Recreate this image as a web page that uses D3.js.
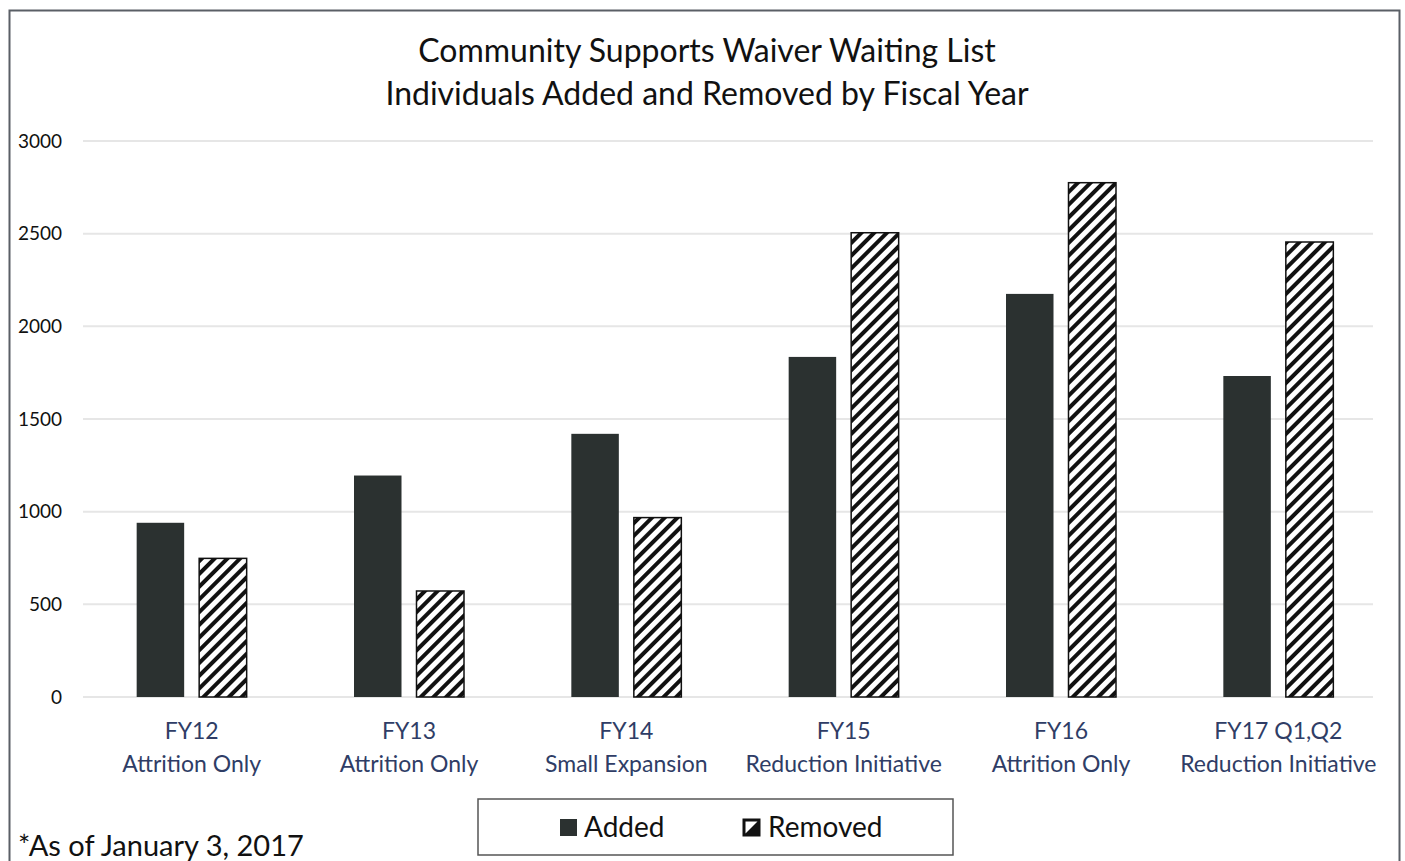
<!DOCTYPE html>
<html>
<head>
<meta charset="utf-8">
<script src="https://cdn.jsdelivr.net/npm/d3@7"></script>
<style>
  body { margin: 0; background: #fff; }
  text { font-family: Lato, "Open Sans", sans-serif; }
</style>
</head>
<body>
<div id="chart"></div>
<script>
// data
let years = ['FY12', 'FY13', 'FY14', 'FY15', 'FY16', 'FY17 Q1,Q2']
let phases = ['Attrition Only', 'Attrition Only', 'Small Expansion', 'Reduction Initiative', 'Attrition Only', 'Reduction Initiative']
let added = [940, 1195, 1420, 1835, 2175, 1732]
let removed = [748, 572, 968, 2505, 2775, 2455]
let series = ['Added', 'Removed']
let yTicks = [0, 500, 1000, 1500, 2000, 2500, 3000]

let width = 1405
let height = 861
let margin = { top: 141, left: 83, right: 18, bottom: 164 }

let svg = d3
  .select('#chart')
  .append('svg')
  .attr('width', width)
  .attr('height', height)

// hatch pattern for Removed
let defs = svg.append('defs')
defs
  .append('pattern')
  .attr('id', 'hatch')
  .attr('patternUnits', 'userSpaceOnUse')
  .attr('width', 9)
  .attr('height', 9)
  .attr('patternTransform', 'rotate(45)')
  .call(p => {
    p.append('rect').attr('width', 9).attr('height', 9).attr('fill', '#fff')
    p.append('rect').attr('width', 4).attr('height', 9).attr('fill', '#111')
  })

// outer frame
svg
  .append('rect')
  .attr('x', 9.5)
  .attr('y', 10.5)
  .attr('width', 1390)
  .attr('height', 880)
  .attr('fill', 'none')
  .attr('stroke', '#5a5f66')
  .attr('stroke-width', 2)

// title
svg
  .append('text')
  .attr('x', 707)
  .attr('y', 62)
  .attr('text-anchor', 'middle')
  .attr('font-size', 32)
  .attr('fill', '#111')
  .text('Community Supports Waiver Waiting List')
svg
  .append('text')
  .attr('x', 707)
  .attr('y', 105)
  .attr('text-anchor', 'middle')
  .attr('font-size', 32)
  .attr('fill', '#111')
  .text('Individuals Added and Removed by Fiscal Year')

let x = d3
  .scaleBand()
  .domain(years)
  .range([margin.left, width - margin.right])

let xInner = d3
  .scaleBand()
  .domain(series)
  .range([x.bandwidth() / 2 - 55, x.bandwidth() / 2 + 55])
  .paddingInner(0.24)

let y = d3
  .scaleLinear()
  .domain([0, 3000])
  .range([height - margin.bottom, margin.top])

// gridlines
svg
  .append('g')
  .selectAll('line')
  .data(yTicks)
  .enter()
  .append('line')
  .attr('x1', margin.left)
  .attr('x2', width - margin.right - 14)
  .attr('y1', d => y(d))
  .attr('y2', d => y(d))
  .attr('stroke', '#e6e6e6')
  .attr('stroke-width', 2)

// y axis labels
let yAxis = svg
  .append('g')
  .attr('transform', 'translate(' + margin.left + ',0)')
  .call(d3.axisLeft(y).tickValues(yTicks).tickFormat(d3.format('d')).tickSize(0).tickPadding(21))
yAxis.select('.domain').remove()
yAxis
  .selectAll('text')
  .attr('font-size', 19)
  .attr('fill', '#111')
  .style('font-family', 'Lato, sans-serif')

// bars
let rows = years.map((d, i) => ({ year: d, Added: added[i], Removed: removed[i] }))

let groups = svg
  .selectAll('.group')
  .data(rows)
  .enter()
  .append('g')
  .attr('class', 'group')
  .attr('transform', d => 'translate(' + x(d.year) + ',0)')

groups
  .selectAll('rect')
  .data(d => series.map(s => ({ key: s, value: d[s] })))
  .enter()
  .append('rect')
  .attr('x', d => xInner(d.key))
  .attr('width', xInner.bandwidth())
  .attr('y', d => y(d.value))
  .attr('height', d => y(0) - y(d.value))
  .attr('fill', d => (d.key === 'Added' ? '#2b3130' : 'url(#hatch)'))
  .attr('stroke', d => (d.key === 'Added' ? 'none' : '#111'))
  .attr('stroke-width', 1.5)

// category labels (two lines)
let labels = svg
  .selectAll('.xlabel')
  .data(years)
  .enter()
  .append('text')
  .attr('class', 'xlabel')
  .attr('text-anchor', 'middle')
  .attr('font-size', 23)
  .attr('fill', '#2f3d66')
  .attr('transform', d => 'translate(' + (x(d) + x.bandwidth() / 2) + ',' + 739 + ')')
labels
  .append('tspan')
  .attr('x', 0)
  .attr('y', 0)
  .text(d => d)
labels
  .append('tspan')
  .attr('x', 0)
  .attr('y', 33)
  .text((d, i) => phases[i])

// legend
let legend = svg.append('g').attr('transform', 'translate(478,799)')
legend
  .append('rect')
  .attr('width', 475)
  .attr('height', 56)
  .attr('fill', '#fff')
  .attr('stroke', '#555')
  .attr('stroke-width', 1.5)

legend
  .append('rect')
  .attr('x', 82)
  .attr('y', 20)
  .attr('width', 17)
  .attr('height', 17)
  .attr('fill', '#2b3130')
legend
  .append('text')
  .attr('x', 106)
  .attr('y', 38)
  .attr('font-size', 28)
  .attr('fill', '#111')
  .text('Added')

legend
  .append('rect')
  .attr('x', 266)
  .attr('y', 21)
  .attr('width', 15)
  .attr('height', 15)
  .attr('fill', '#fff')
  .attr('stroke', '#111')
  .attr('stroke-width', 3)
legend
  .append('path')
  .attr('d', 'M266,36 L281,21 L281,36 Z')
  .attr('fill', '#111')
legend
  .append('text')
  .attr('x', 290)
  .attr('y', 38)
  .attr('font-size', 28)
  .attr('fill', '#111')
  .text('Removed')

// footnote
svg
  .append('text')
  .attr('x', 18)
  .attr('y', 856)
  .attr('font-size', 29)
  .attr('fill', '#111')
  .text('*As of January 3, 2017')
</script>
</body>
</html>
